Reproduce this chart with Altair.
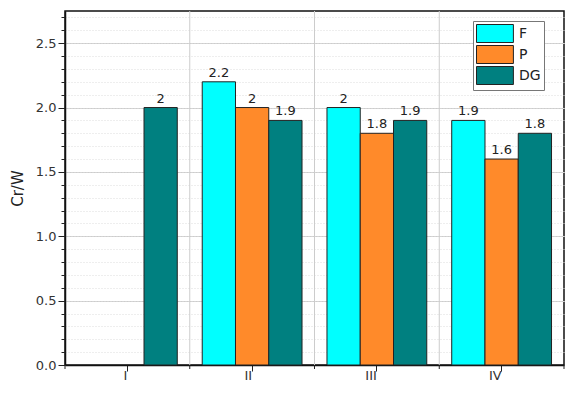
import altair as alt
import pandas as pd

categories = ["I", "II", "III", "IV"]
series = ["F", "P", "DG"]
F_vals = [None, 2.2, 2.0, 1.9]
P_vals = [None, 2.0, 1.8, 1.6]
DG_vals = [2.0, 1.9, 1.9, 1.8]
colors = ["#00FFFF", "#FF8A2A", "#008080"]
major_y = [0.0, 0.5, 1.0, 1.5, 2.0, 2.5]
minor_y = [0.0, 0.1, 0.2, 0.3, 0.4, 0.5, 0.6, 0.7, 0.8, 0.9, 1.0, 1.1, 1.2, 1.3,
           1.4, 1.5, 1.6, 1.7, 1.8, 1.9, 2.0, 2.1, 2.2, 2.3, 2.4, 2.5, 2.6, 2.7]

rows = []
for s, vals in zip(series, [F_vals, P_vals, DG_vals]):
    for c, v in zip(categories, vals):
        if v is not None:
            rows.append({"cat": c, "series": s, "value": v, "label": f"{v:g}"})
df = pd.DataFrame(rows)

W, H = 499, 354
FONT = "DejaVu Sans"

xscale = alt.Scale(domain=categories, paddingInner=0, paddingOuter=0)
yscale = alt.Scale(domain=[0, 2.75], nice=False, zero=True)
offscale = alt.Scale(domain=series, paddingInner=0, paddingOuter=0.375)

x_enc = alt.X("cat:N", sort=categories, scale=xscale, title=None,
              axis=alt.Axis(labelAngle=0, tickSize=6, labelPadding=4, labelFontSize=13,
                            labelColor="#333", tickColor="#222", grid=False,
                            domainColor="#111", domainWidth=1.5))

major_axis = alt.Axis(values=major_y, format=".1f", orient="left", title="Cr/W",
                      titleFontSize=15, titleFontWeight="normal", titleColor="#222",
                      titlePadding=10, labelFontSize=13, labelColor="#333",
                      tickSize=7, tickColor="#222", labelPadding=2,
                      grid=True, gridColor="#cccccc", gridWidth=1,
                      domainColor="#111", domainWidth=1.5)
minor_axis = alt.Axis(values=minor_y, orient="left", labels=False, title=None,
                      tickSize=4, tickColor="#222", domain=False,
                      grid=True, gridColor="#dddddd", gridDash=[1, 2], gridWidth=1)

bars = alt.Chart(df).mark_bar(stroke="#222", strokeWidth=1).encode(
    x=x_enc,
    xOffset=alt.XOffset("series:N", scale=offscale),
    y=alt.Y("value:Q", scale=yscale, axis=major_axis),
    color=alt.Color("series:N", scale=alt.Scale(domain=series, range=colors),
                    legend=alt.Legend(title=None, orient="none", legendX=408, legendY=10,
                                      symbolType="M-1,-1H3.1V1H-1Z", symbolSize=324,
                                      symbolStrokeColor="#222", symbolStrokeWidth=1,
                                      symbolOpacity=1, labelFontSize=14, labelColor="#222",
                                      labelFont=FONT, labelOffset=24, rowPadding=-3,
                                      padding=3, fillColor="white", strokeColor="#777")),
)

labels = alt.Chart(df).mark_text(dy=-9, fontSize=13, color="#222", font=FONT).encode(
    x=x_enc,
    xOffset=alt.XOffset("series:N", scale=offscale),
    y=alt.Y("value:Q", scale=yscale, axis=minor_axis),
    text="label:N",
)

grid_df = pd.DataFrame({"cat": categories[1:]})
vgrid = alt.Chart(grid_df).mark_rule(color="#cccccc", strokeWidth=1).encode(
    x=alt.X("cat:N", scale=xscale, bandPosition=0),
    y=alt.value(0), y2=alt.value(H),
)

tick_df = pd.DataFrame({"cat": categories})
xminor = alt.Chart(tick_df).mark_rule(color="#222", strokeWidth=1).encode(
    x=alt.X("cat:N", scale=xscale, bandPosition=0),
    y=alt.value(H), y2=alt.value(H + 4),
)
end_df = pd.DataFrame({"cat": categories[-1:]})
xminor_end = alt.Chart(end_df).mark_rule(color="#222", strokeWidth=1).encode(
    x=alt.X("cat:N", scale=xscale, bandPosition=1),
    y=alt.value(H), y2=alt.value(H + 4),
)

chart = alt.layer(vgrid, bars, labels, xminor, xminor_end).resolve_axis(
    y="independent"
).properties(
    width=W, height=H,
    padding={"left": 2, "top": 2, "right": 0, "bottom": 0},
).configure(font=FONT).configure_view(
    stroke="#111", strokeWidth=1.5
).configure_axis(labelFont=FONT, titleFont=FONT)

chart.save("out.html", embed_options={"renderer": "svg", "actions": False})
